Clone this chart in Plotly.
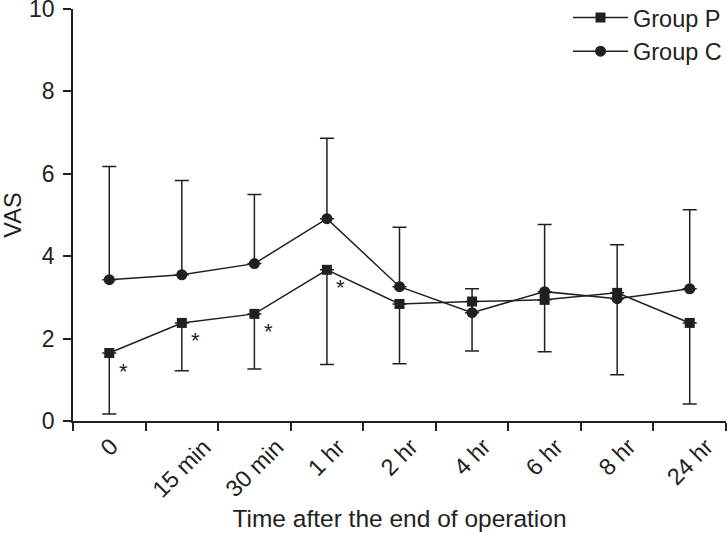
import plotly.graph_objects as go

categories = ["0", "15 min", "30 min", "1 hr", "2 hr", "4 hr", "6 hr", "8 hr", "24 hr"]
group_p = [1.65, 2.38, 2.60, 3.67, 2.84, 2.90, 2.94, 3.11, 2.38]
group_p_sd_minus = [1.48, 1.16, 1.34, 2.30, 1.45, 1.20, 1.26, 1.99, 1.97]
group_c = [3.43, 3.55, 3.82, 4.91, 3.26, 2.63, 3.14, 2.97, 3.21]
group_c_sd_plus = [2.75, 2.29, 1.68, 1.95, 1.44, 0.58, 1.63, 1.31, 1.92]
significant = ["0", "15 min", "30 min", "1 hr"]

INK = "#231f20"
FONT = "Liberation Sans, Arial, Helvetica, sans-serif"
FS = 23.5

fig = go.Figure()
fig.add_trace(go.Scatter(
    x=categories, y=group_p, name="Group P", mode="lines+markers",
    line=dict(color=INK, width=1.5),
    marker=dict(symbol="square", size=10, color=INK),
    error_y=dict(type="data", symmetric=False, array=[0] * len(group_p),
                 arrayminus=group_p_sd_minus, color=INK, thickness=1.5, width=7),
))
fig.add_trace(go.Scatter(
    x=categories, y=group_c, name="Group C", mode="lines+markers",
    line=dict(color=INK, width=1.5),
    marker=dict(symbol="circle", size=11, color=INK),
    error_y=dict(type="data", symmetric=False, array=group_c_sd_plus,
                 arrayminus=[0] * len(group_c), color=INK, thickness=1.5, width=7),
))

for cat in significant:
    i = categories.index(cat)
    fig.add_annotation(x=cat, y=group_p[i], text="*", showarrow=False,
                       xshift=14, yshift=-18,
                       font=dict(family=FONT, size=22, color=INK))

# category labels, rotated and centred under each category
for cat in categories:
    fig.add_annotation(x=cat, y=0, yref="y", text=cat, showarrow=False,
                       textangle=-45, xanchor="center", yanchor="top",
                       yshift=-11, borderpad=0,
                       font=dict(family=FONT, size=FS, color=INK))

fig.update_layout(
    width=727, height=535,
    margin=dict(l=73, r=1, t=9, b=114, autoexpand=False),
    paper_bgcolor="white", plot_bgcolor="white",
    font=dict(family=FONT, size=FS, color=INK),
    showlegend=True,
    legend=dict(x=(568 - 73) / 653, xanchor="left", y=1.032, yanchor="top",
                bgcolor="rgba(0,0,0,0)", itemwidth=55,
                font=dict(family=FONT, size=FS, color=INK),
                tracegroupgap=0),
    xaxis=dict(
        type="category", categoryorder="array", categoryarray=categories,
        range=[-0.5, 8.5], tickson="boundaries", ticks="outside", ticklen=8,
        tickwidth=1.5, tickcolor=INK, showticklabels=False, showline=True,
        linecolor=INK, linewidth=1.5, showgrid=False, zeroline=False,
        automargin=False,
        title=dict(text="Time after the end of operation", standoff=88,
                   font=dict(family=FONT, size=24.5, color=INK)),
    ),
    yaxis=dict(
        range=[0, 10], tickvals=[0, 2, 4, 6, 8, 10], ticks="outside", ticklen=8,
        tickwidth=1.5, tickcolor=INK, showline=True, linecolor=INK,
        linewidth=1.5, showgrid=False, zeroline=False, ticklabelstandoff=4,
        automargin=False, ticklabeloverflow="allow",
        tickfont=dict(family=FONT, size=23, color=INK),
        title=dict(text="VAS", standoff=12,
                   font=dict(family=FONT, size=23.5, color=INK)),
    ),
)

fig.write_html(
    "out.html",
    config={"displayModeBar": False},
    post_script="document.body.style.margin='0';document.body.style.padding='0';",
)
